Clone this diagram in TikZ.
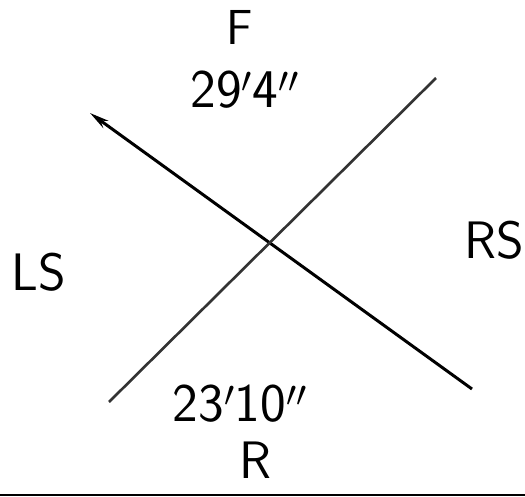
\documentclass[tikz,border=0pt]{standalone}
\usetikzlibrary{arrows.meta}
\tikzset{
  sidelabel/.style={font=\sffamily\fontsize{30}{34}\selectfont, inner sep=0pt},
  sizelabel/.style={font=\sffamily\fontsize{31}{35}\selectfont, inner sep=0pt}
}
\begin{document}
\begin{tikzpicture}[x=0.02cm,y=-0.02cm]
        \useasboundingbox (0,0) rectangle (525,497);
        % base line
        \coordinate (bl) at (0,495);\coordinate (br) at (525,495);
        \draw [line width=1.2pt] (bl) -- (br);
        % line ends
        \coordinate (nw) at (90,113);\coordinate (se) at (472,389);
        \coordinate (sw) at (109,402);\coordinate (ne) at (436,78);
        % cross
        \draw [line width=1.7pt, -{Stealth[length=11pt,width=5pt]}] (se) -- (nw);
        \draw [line width=1.5pt, black!80] (sw) -- (ne);
        % lecters
        \node [sidelabel, font=\sffamily\fontsize{28}{32}\selectfont] (front) at (240,27) {F};
        \node [sizelabel] (flen) at (245,90) {29\smash{$'$}4\smash{$''$}};
        \node [sidelabel] (left) at (39,272) {LS};
        \node [sidelabel] (right) at (494,240) {RS};
        \node [sizelabel] (rlen) at (240,404) {23\smash{$'$}10\smash{$''$}};
        \node [sidelabel] (rear) at (255,460) {R};
\end{tikzpicture}
\end{document}
